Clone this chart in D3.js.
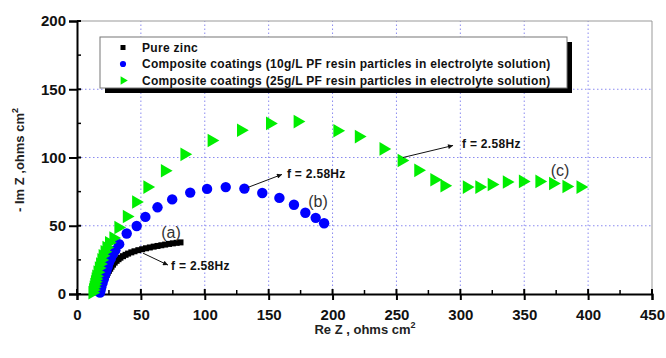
<!DOCTYPE html>
<html><head><meta charset="utf-8">
<script src="https://cdn.jsdelivr.net/npm/d3@7"></script>
<style>body{margin:0;background:#fff}svg{display:block}text{font-family:"Liberation Sans",Arial,sans-serif}</style>
</head><body><svg id="c" width="666" height="358"></svg>
<script>
// ---- data ----
const seriesNames = ["Pure zinc",
  "Composite coatings (10g/L PF resin particles in electrolyte solution)",
  "Composite coatings (25g/L PF resin particles in electrolyte solution)"];
const pureZinc = [[18,0.5],[18.5,2],[19,3.5],[19.5,5],[20,6.5],[20.5,8],[21,9.5],[21.7,11],[22.4,12.5],[23.2,14],[24,15.5],[25,17],[26,18.5],[27,20],[28.2,21.5],[29.5,23],[31,24.3],[32.5,25.5],[34,26.6],[36,27.7],[38,28.7],[40,29.6],[42.5,30.5],[45,31.3],[48,32.1],[51,32.8],[54,33.5],[57,34.1],[60,34.7],[63,35.2],[66,35.7],[69,36.2],[72,36.7],[75,37.1],[78,37.5],[81,37.8]];
const coat10 = [[18,1],[18.5,3],[19,5],[20,8],[21,11],[22,14],[23,17],[24,20],[25,23],[26.5,26],[28,29],[30,32],[33,36.5],[38.9,44.3],[46.7,49.8],[53.5,56.5],[63,63.5],[74.5,69.3],[88.6,74.3],[101.8,77],[116.4,78.3],[131,77.2],[145,74],[158.4,70.4],[169.8,65.4],[178.7,59.5],[186.8,55.8],[193.4,51.8]];
const coat25 = [[12,1],[12.5,3],[13,5],[13.5,7],[14,9],[14.5,11],[15,13],[16,16],[17,19],[18,22],[19,25],[20,28],[21.5,31],[23,34],[25,37.5],[28.4,41],[32.3,48.7],[38.9,56.8],[46.2,67.4],[55,78.3],[68.7,90.3],[84,102.3],[105.3,112.4],[128.3,120],[151,125],[172.6,126.3],[203.7,119.6],[220.5,115.3],[239.8,106.3],[254,97.8],[267,90.6],[279.6,83.7],[287.5,79.3],[305,78.3],[314.8,78.3],[324.5,80.2],[336.3,82],[348.9,82.5],[361.8,82.5],[372.5,81],[383,78.8],[394,78.3]];
const xTicks = [0,50,100,150,200,250,300,350,400,450];
const yTicks = [0,50,100,150,200];
const xTitle = "Re  Z , ohms cm";
const yTitle = "- Im Z ,ohms cm";
const curveLabels = [["(a)",73.6,45.3],["(b)",188.6,67.9],["(c)",378,90.5]];
const freqNotes = [ // text, arrow from (x,y) to (x,y), text anchor (x,y)
  ["f = 2.58Hz",51.7,29.9,71.2,21.2,73.6,17.5],
  ["f = 2.58Hz",133.8,78.1,160.4,87.6,164.3,84.7],
  ["f = 2.58Hz",255.1,100,294.3,108.8,301.3,106.6]];

// ---- chart ----
const svg = d3.select("#c");
const x = d3.scaleLinear().domain([0,450]).range([77,652]);
const y = d3.scaleLinear().domain([0,200]).range([294,21]);

// grid
const g = svg.append("g");
g.selectAll(".gx").data(xTicks.filter(d=>d>0&&d<450)).join("line")
  .attr("x1",d=>x(d)).attr("x2",d=>x(d)).attr("y1",y(0)).attr("y2",y(200))
  .attr("stroke","#8a8af0").attr("stroke-width",1).attr("stroke-dasharray","1.5,2.5");
g.selectAll(".gy").data(yTicks.filter(d=>d>0&&d<200)).join("line")
  .attr("y1",d=>y(d)).attr("y2",d=>y(d)).attr("x1",x(0)).attr("x2",x(450))
  .attr("stroke","#8a8af0").attr("stroke-width",1).attr("stroke-dasharray","1.5,2.5");
// frame top/right
svg.append("line").attr("x1",x(0)).attr("x2",x(450)).attr("y1",y(200)).attr("y2",y(200)).attr("stroke","#999");
svg.append("line").attr("x1",x(450)).attr("x2",x(450)).attr("y1",y(200)).attr("y2",y(0)).attr("stroke","#999");

// axes
const xAxis = svg.append("g").attr("transform",`translate(0,${y(0)})`)
  .call(d3.axisBottom(x).tickValues(xTicks).tickSize(6).tickPadding(9).tickFormat(d3.format("d")));
const yAxis = svg.append("g").attr("transform",`translate(${x(0)},0)`)
  .call(d3.axisLeft(y).tickValues(yTicks).tickSize(8).tickPadding(3).tickFormat(d3.format("d")));
[xAxis,yAxis].forEach(a=>{
  a.select(".domain").attr("stroke","#000").attr("stroke-width",2);
  a.selectAll(".tick line").attr("stroke","#000").attr("stroke-width",2);
  a.selectAll(".tick text").attr("fill","#111").attr("font-size",15).attr("font-weight","bold")
   .attr("font-family","'Liberation Sans',Arial,sans-serif");
});
// inward parts of major ticks and minor ticks
const xMinor = d3.range(25,450,50);
svg.append("g").selectAll("line").data(xTicks).join("line")
  .attr("x1",d=>x(d)).attr("x2",d=>x(d)).attr("y1",y(0)).attr("y2",y(0)-5).attr("stroke","#000").attr("stroke-width",2);
svg.append("g").selectAll("line").data(xMinor).join("line")
  .attr("x1",d=>x(d)).attr("x2",d=>x(d)).attr("y1",y(0)).attr("y2",y(0)-4).attr("stroke","#000").attr("stroke-width",1.5);
const yMinor = d3.range(25,200,50);
svg.append("g").selectAll("line").data(yTicks).join("line")
  .attr("y1",d=>y(d)).attr("y2",d=>y(d)).attr("x1",x(0)).attr("x2",x(0)+4).attr("stroke","#000").attr("stroke-width",2);
svg.append("g").selectAll("line").data(yMinor).join("line")
  .attr("y1",d=>y(d)).attr("y2",d=>y(d)).attr("x1",x(0)).attr("x2",x(0)+4).attr("stroke","#000").attr("stroke-width",1.5);

// axis titles
const xt = svg.append("text").attr("x",365).attr("y",334).attr("text-anchor","middle")
  .attr("font-size",13).attr("font-weight","bold").attr("fill","#222").text(xTitle);
xt.append("tspan").attr("dy",-6).attr("font-size",9).text("2");
const yt = svg.append("text").attr("transform","translate(24,160) rotate(-90)").attr("text-anchor","middle")
  .attr("font-size",13).attr("font-weight","bold").attr("fill","#222").text(yTitle);
yt.append("tspan").attr("dy",-6).attr("font-size",9).text("2");

// data
const colors = ["#000000","#0000ff","#00ee00"];
const sq = d3.symbol().type(d3.symbolSquare).size(36);
const ci = d3.symbol().type(d3.symbolCircle).size(85);
const tr = d3.symbol().type(d3.symbolTriangle).size(80);
svg.append("g").selectAll("path").data(pureZinc).join("path")
  .attr("d",sq).attr("transform",d=>`translate(${x(d[0])},${y(d[1])})`).attr("fill",colors[0]);
svg.append("g").selectAll("path").data(coat10).join("path")
  .attr("d",ci).attr("transform",d=>`translate(${x(d[0])},${y(d[1])})`).attr("fill",colors[1]);
svg.append("g").selectAll("path").data(coat25).join("path")
  .attr("d",tr).attr("transform",d=>`translate(${x(d[0])},${y(d[1])}) rotate(90)`).attr("fill",colors[2]);

// curve labels
svg.append("g").selectAll("text").data(curveLabels).join("text")
  .attr("x",d=>x(d[1])).attr("y",d=>y(d[2])).attr("dy","0.35em").attr("text-anchor","middle")
  .attr("font-size",16).attr("fill","#333").text(d=>d[0]);

// arrows
const defs = svg.append("defs");
defs.append("marker").attr("id","ah").attr("viewBox","0 0 10 10").attr("refX",10).attr("refY",5)
  .attr("markerWidth",7).attr("markerHeight",5).attr("orient","auto")
  .append("path").attr("d","M0,0L10,5L0,10z").attr("fill","#111");
const fn = svg.append("g");
fn.selectAll("line").data(freqNotes).join("line")
  .attr("x1",d=>x(d[1])).attr("y1",d=>y(d[2])).attr("x2",d=>x(d[3])).attr("y2",d=>y(d[4]))
  .attr("stroke","#111").attr("stroke-width",1).attr("marker-end","url(#ah)");
fn.selectAll("text").data(freqNotes).join("text")
  .attr("x",d=>x(d[5])).attr("y",d=>y(d[6])).attr("font-size",12).attr("letter-spacing",0.3)
  .attr("font-weight","bold").attr("fill","#111").text(d=>d[0]);

// legend
const lg = svg.append("g");
lg.append("rect").attr("x",105).attr("y",42).attr("width",467).attr("height",51).attr("fill","#000");
lg.append("rect").attr("x",100).attr("y",37).attr("width",467).attr("height",51).attr("fill","#fff").attr("stroke","#777").attr("stroke-width",1);
const syms = [d3.symbol().type(d3.symbolSquare).size(25), d3.symbol().type(d3.symbolCircle).size(30), d3.symbol().type(d3.symbolTriangle).size(30)];
seriesNames.forEach((n,i)=>{
  const yy = 47.5 + i*16.5;
  lg.append("path").attr("d",syms[i]).attr("transform",`translate(123,${yy})`+(i==2?" rotate(90)":"")).attr("fill",colors[i]);
  lg.append("text").attr("x",142).attr("y",yy).attr("dy","0.35em").attr("font-size",12).attr("letter-spacing",0.3)
    .attr("font-weight","bold").attr("fill","#111").text(n);
});
</script></body></html>
